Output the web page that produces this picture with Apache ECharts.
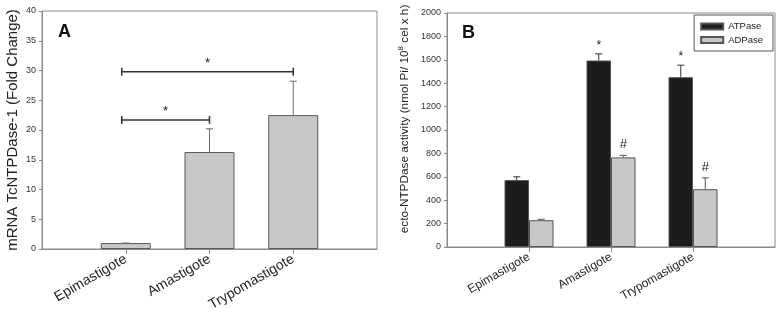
<!DOCTYPE html>
<html>
<head>
<meta charset="utf-8">
<script src="https://cdn.jsdelivr.net/npm/echarts@6/dist/echarts.min.js"></script>
<style>
  html, body { margin: 0; padding: 0; background: #fff; }
  #main { width: 778px; height: 319px; }
</style>
</head>
<body>
<div id="main"></div>
<script>
// categories (padded with blanks so bars sit on ticks 1..3 of 0..4)
const categories = ["Epimastigote", "Amastigote", "Trypomastigote"];

// panel A: mRNA fold change
const foldChange = [1.0, 16.3, 22.5];
const foldSd = [0, 3.9, 5.7];
// significance brackets: [fromIdx, toIdx, y]
const foldBrackets = [[0, 2, 29.8], [0, 1, 21.7]];

// panel B: ecto-NTPDase activity
const atpase = [572, 1594, 1451];
const atpaseSd = [28, 57, 103];
const adpase = [229, 766, 494];
const adpaseSd = [8, 17, 97];
const atpaseMark = ["", "*", "*"];
const adpaseMark = ["", "#", "#"];

const ticksA = [0, 40, 5];
const ticksB = [0, 2000, 200];

const font = "Liberation Sans, Arial, sans-serif";
const axisGray = "#8a8a8a";
const xData = [""].concat(categories, [""]);

function xAxis(gridIndex, fs) {
  return {
    type: "category",
    gridIndex: gridIndex,
    data: xData,
    boundaryGap: false,
    axisLine: { lineStyle: { color: axisGray, width: 1 } },
    axisTick: {
      length: 5,
      lineStyle: { color: axisGray },
      interval: function (i) { return i > 0 && i < xData.length - 1; }
    },
    axisLabel: {
      rotate: 30,
      interval: 0,
      margin: 9,
      fontFamily: font,
      fontSize: fs,
      color: "#222"
    },
    splitLine: { show: false }
  };
}

function yAxis(gridIndex, t, name, nameGap, fs, extra) {
  return Object.assign({
    type: "value",
    gridIndex: gridIndex,
    min: t[0],
    max: t[1],
    interval: t[2],
    name: name,
    nameLocation: "middle",
    nameGap: nameGap,
    nameRotate: 90,
    nameTextStyle: { fontFamily: font, fontSize: fs, color: "#222" },
    axisLine: { show: true, lineStyle: { color: axisGray } },
    axisTick: { show: true, length: 3, lineStyle: { color: axisGray } },
    axisLabel: {
      fontFamily: font, fontSize: 9, color: "#333", margin: 6,
      formatter: function (v) { return String(v); }
    },
    splitLine: { show: false }
  }, extra || {});
}

function errorSeries(xi, yi, vals, sds, marks, offset, color, markSize) {
  return {
    type: "custom",
    xAxisIndex: xi,
    yAxisIndex: yi,
    z: 5,
    silent: true,
    data: vals.map(function (v, i) { return [i + 1, v, v + sds[i], i]; }),
    renderItem: function (params, api) {
      const i = api.value(3);
      const p0 = api.coord([api.value(0), api.value(1)]);
      const p1 = api.coord([api.value(0), api.value(2)]);
      const x = p0[0] + offset;
      const children = [];
      if (p0[1] - p1[1] > 0.5) {
        children.push({
          type: "line",
          shape: { x1: x, y1: p0[1], x2: x, y2: p1[1] },
          style: { stroke: color, lineWidth: 1 }
        });
      }
      children.push({
        type: "line",
        shape: { x1: x - 3.5, y1: p1[1], x2: x + 3.5, y2: p1[1] },
        style: { stroke: color, lineWidth: 1 }
      });
      if (marks && marks[i]) {
        children.push({
          type: "text",
          style: {
            text: marks[i],
            x: x,
            y: p1[1] - (marks[i] === "*" ? 2 : 4),
            align: "center",
            verticalAlign: "bottom",
            font: markSize + "px " + font,
            fill: "#222"
          }
        });
      }
      return { type: "group", children: children };
    }
  };
}

const option = {
  animation: false,
  backgroundColor: "#fff",
  title: [
    { text: "A", left: 53, top: 18, textStyle: { fontFamily: font, fontSize: 18, fontWeight: "bold", color: "#111" } },
    { text: "B", left: 457, top: 19, textStyle: { fontFamily: font, fontSize: 18, fontWeight: "bold", color: "#111" } }
  ],
  legend: {
    data: ["ATPase", "ADPase"],
    orient: "vertical",
    right: 5,
    top: 15,
    icon: "rect",
    itemWidth: 22,
    itemHeight: 6,
    itemGap: 1.5,
    padding: [5.5, 10, 5, 6],
    borderColor: "#555",
    borderWidth: 1,
    textStyle: { fontFamily: font, fontSize: 9.5, color: "#222", lineHeight: 12 }
  },
  grid: [
    { left: 42, top: 11, right: 401, bottom: 70, show: true, borderColor: axisGray, borderWidth: 1, outerBoundsMode: "none" },
    { left: 447, top: 13, right: 3, bottom: 72, show: true, borderColor: axisGray, borderWidth: 1, outerBoundsMode: "none" }
  ],
  xAxis: [xAxis(0, 14), xAxis(1, 12)],
  yAxis: [
    yAxis(0, ticksA, "mRNA TcNTPDase-1 (Fold Change)", 22, 15),
    yAxis(1, ticksB, "{a|ecto-NTPDase activity (nmol Pi/ 10}{s|8}{a| cel x h)}", 35, 12, {
      nameTextStyle: {
        fontFamily: font,
        color: "#222",
        padding: [0, 0, 0, 22],
        rich: {
          a: { fontFamily: font, fontSize: 11.8, color: "#222" },
          s: { fontFamily: font, fontSize: 8, color: "#222", padding: [0, 0, 7, 0] }
        }
      }
    })
  ],
  series: [
    {
      name: "Fold",
      type: "bar",
      xAxisIndex: 0,
      yAxisIndex: 0,
      barWidth: 50,
      data: ["-"].concat(foldChange, ["-"]),
      itemStyle: { color: "#c8c8c8", borderColor: "#5a5a5a", borderWidth: 1 }
    },
    errorSeries(0, 0, foldChange, foldSd, null, 0, "#6a6a6a", 12),
    {
      type: "custom",
      xAxisIndex: 0,
      yAxisIndex: 0,
      z: 6,
      silent: true,
      data: foldBrackets,
      renderItem: function (params, api) {
        const a = api.coord([api.value(0) + 1, api.value(2)]);
        const b = api.coord([api.value(1) + 1, api.value(2)]);
        const x1 = a[0] - 4, x2 = b[0], y = a[1];
        const st = { stroke: "#333", lineWidth: 1.5 };
        return {
          type: "group",
          children: [
            { type: "line", shape: { x1: x1, y1: y, x2: x2, y2: y }, style: st },
            { type: "line", shape: { x1: x1, y1: y - 4, x2: x1, y2: y + 4 }, style: st },
            { type: "line", shape: { x1: x2, y1: y - 4, x2: x2, y2: y + 4 }, style: st },
            {
              type: "text",
              style: {
                text: "*", x: (x1 + x2) / 2, y: y - 2, align: "center", verticalAlign: "bottom",
                font: "13px " + font, fill: "#222"
              }
            }
          ]
        };
      }
    },
    {
      name: "ATPase",
      type: "bar",
      xAxisIndex: 1,
      yAxisIndex: 1,
      barWidth: 24.5,
      barGap: "0%",
      data: ["-"].concat(atpase, ["-"]),
      itemStyle: { color: "#1c1c1c", borderColor: "#555", borderWidth: 1 }
    },
    {
      name: "ADPase",
      type: "bar",
      xAxisIndex: 1,
      yAxisIndex: 1,
      barWidth: 24.5,
      barGap: "0%",
      data: ["-"].concat(adpase, ["-"]),
      itemStyle: { color: "#c8c8c8", borderColor: "#555", borderWidth: 1 }
    },
    errorSeries(1, 1, atpase, atpaseSd, atpaseMark, -12.25, "#333", 12),
    errorSeries(1, 1, adpase, adpaseSd, adpaseMark, 12.25, "#555", 13)
  ]
};

const chart = echarts.init(document.getElementById("main"));
chart.setOption(option);
</script>
</body>
</html>
